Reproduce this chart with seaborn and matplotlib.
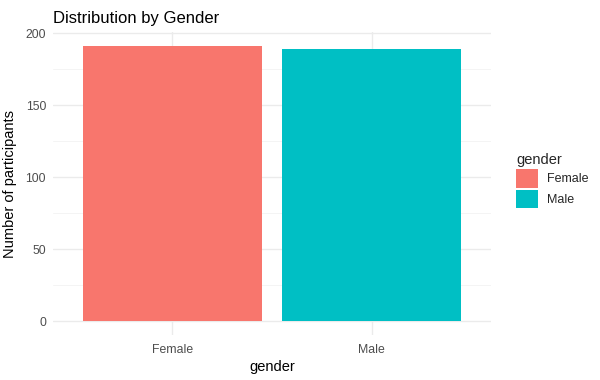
import matplotlib
matplotlib.use("Agg")
import matplotlib.pyplot as plt
import seaborn as sns
import pandas as pd
from matplotlib.patches import Patch
from matplotlib.ticker import MultipleLocator

# --- Dane ---
genders = ["Female", "Male"]
counts = [191, 189]
colors = ["#F8766D", "#00BFC4"]

df = pd.DataFrame({"gender": genders, "count": counts})

# --- Styl ---
sns.set_theme(style="white")
plt.rcParams['font.family'] = ['Liberation Sans', 'DejaVu Sans']

fig = plt.figure(figsize=(6, 3.8), dpi=100)
ax = fig.add_axes([53 / 600, 45 / 380, 438 / 600, 302.6 / 380])

sns.barplot(data=df, x="gender", y="count", hue="gender", palette=colors,
            width=0.9, dodge=False, legend=False, saturation=1, linewidth=0,
            ax=ax, zorder=3)

ax.set_xlim(-0.6, 1.6)
ax.set_ylim(-0.05 * max(counts), 1.05 * max(counts))
ax.yaxis.set_major_locator(MultipleLocator(50))
ax.yaxis.set_minor_locator(MultipleLocator(25))

ax.grid(True, which="major", color="#EBEBEB", linewidth=1.0, zorder=0)
ax.grid(True, which="minor", axis="y", color="#F2F2F2", linewidth=0.6, zorder=0)
for s in ax.spines.values():
    s.set_visible(False)
ax.tick_params(axis="both", which="both", length=0, colors="#4D4D4D", labelsize=8.8)
ax.tick_params(axis="x", pad=6.5)
ax.tick_params(axis="y", pad=5)

ax.set_title("Distribution by Gender", loc="left", fontsize=12, color="black", pad=7)
ax.set_xlabel("gender", fontsize=10.5, color="black", labelpad=3)
ax.set_ylabel("Number of participants", fontsize=10.5, color="black", labelpad=6)

handles = [Patch(facecolor=c, edgecolor="none") for c in colors]
leg = fig.legend(handles, genders, title="gender", loc="upper left",
                 bbox_to_anchor=(505 / 600, 238 / 380), frameon=False,
                 fontsize=9, title_fontsize=10.5, handlelength=1.75, handleheight=1.9,
                 handletextpad=0.7, labelspacing=0.15, alignment="left")

fig.savefig("out.png", dpi=100)
